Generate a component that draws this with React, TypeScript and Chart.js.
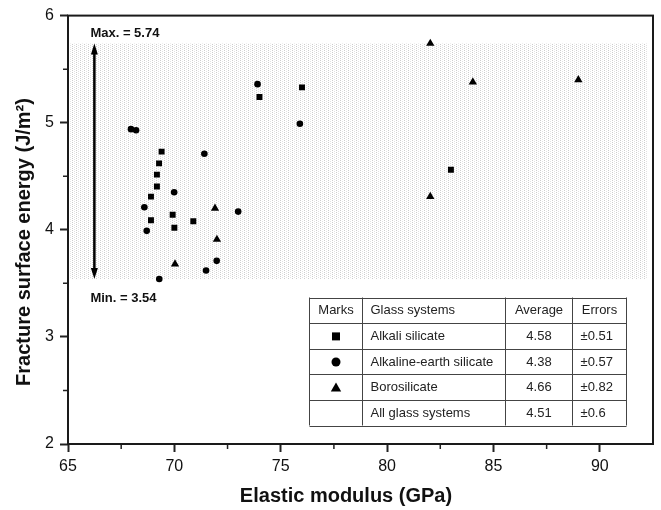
import React, { useEffect, useRef } from 'react';
import { Chart, registerables } from 'chart.js';

Chart.register(...registerables);

// ---- data ----
const xTicks = [65, 70, 75, 80, 85, 90];
const yTicks = [2, 3, 4, 5, 6];
const xMinorTicks = [67.5, 72.5, 77.5, 82.5, 87.5];
const yMinorTicks = [2.5, 3.5, 4.5, 5.5];

const alkaliX = [76.0, 74.0, 69.4, 69.28, 69.18, 69.18, 68.9, 69.92, 68.9, 70.0, 70.89, 83.0];
const alkaliY = [5.33, 5.24, 4.73, 4.62, 4.515, 4.405, 4.31, 4.14, 4.09, 4.02, 4.08, 4.56];

const earthX = [67.96, 68.2, 73.91, 75.9, 71.41, 69.99, 68.59, 73.0, 68.7, 71.99, 71.49, 69.29];
const earthY = [4.94, 4.93, 5.36, 4.99, 4.71, 4.35, 4.21, 4.17, 3.99, 3.71, 3.62, 3.54];

const boroX = [71.91, 72.0, 70.03, 82.03, 84.03, 88.99, 82.03];
const boroY = [4.2, 3.91, 3.68, 5.74, 5.38, 5.4, 4.31];

const rangeMax = 5.74;
const rangeMin = 3.54;

const tableHeaders = ['Marks', 'Glass systems', 'Average', 'Errors'];
const tableMarks = ['rect', 'circle', 'triangle', ''];
const tableSystems = ['Alkali silicate', 'Alkaline-earth silicate', 'Borosilicate', 'All glass systems'];
const tableAverages = ['4.58', '4.38', '4.66', '4.51'];
const tableErrors = ['\u00b10.51', '\u00b10.57', '\u00b10.82', '\u00b10.6'];

// ---- layout (data units) ----
const tableColEdges = [76.33, 78.82, 85.54, 88.68, 91.22];
const tableTop = 3.37;
const tableBottom = 2.18;
const shadeLeft = 65.1;
const shadeRight = 92.26;
const arrowX = 66.24;

const FONT = '"Liberation Sans", Arial, Helvetica, sans-serif';

const toPts = (xs: number[], ys: number[]) => xs.map((x, i) => ({ x, y: ys[i] }));

export default function App() {
  const ref = useRef<HTMLCanvasElement>(null);

  useEffect(() => {
    document.body.style.margin = '0';
    const canvas = ref.current!;

    const tile = document.createElement('canvas');
    tile.width = 4;
    tile.height = 4;
    const tctx = tile.getContext('2d')!;
    tctx.fillStyle = '#ffffff';
    tctx.fillRect(0, 0, 4, 4);
    tctx.fillStyle = '#cdcdcd';
    tctx.fillRect(0, 0, 1, 1);
    tctx.fillRect(0, 2, 1, 1);
    tctx.fillStyle = '#e2e2e2';
    tctx.fillRect(2, 1, 1, 1);
    tctx.fillRect(2, 3, 1, 1);

    const drawMark = (ctx: CanvasRenderingContext2D, kind: string, cx: number, cy: number, s: number) => {
      ctx.fillStyle = '#000';
      ctx.beginPath();
      if (kind === 'rect') {
        ctx.rect(cx - s / 2, cy - s / 2, s, s);
      } else if (kind === 'circle') {
        ctx.arc(cx, cy, s / 2 + 0.5, 0, Math.PI * 2);
      } else if (kind === 'triangle') {
        ctx.moveTo(cx, cy - s * 0.65);
        ctx.lineTo(cx + s * 0.65, cy + s * 0.5);
        ctx.lineTo(cx - s * 0.65, cy + s * 0.5);
        ctx.closePath();
      }
      ctx.fill();
    };

    const overlay = {
      id: 'overlay',
      beforeDatasetsDraw(chart: any) {
        const { ctx, scales } = chart;
        const xs = scales.x, ys = scales.y;
        ctx.save();
        const pat = ctx.createPattern(tile, 'repeat');
        ctx.fillStyle = pat;
        const l = xs.getPixelForValue(shadeLeft), r = xs.getPixelForValue(shadeRight);
        const t = ys.getPixelForValue(rangeMax), b = ys.getPixelForValue(rangeMin);
        ctx.fillRect(l, t, r - l, b - t);

        // double arrow
        const ax = xs.getPixelForValue(arrowX);
        const head = 11, hw = 3.5;
        ctx.strokeStyle = '#000';
        ctx.lineWidth = 2.5;
        ctx.beginPath();
        ctx.moveTo(ax, t + head - 1);
        ctx.lineTo(ax, b - head + 1);
        ctx.stroke();
        ctx.fillStyle = '#000';
        ctx.beginPath();
        ctx.moveTo(ax, t);
        ctx.lineTo(ax + hw, t + head);
        ctx.lineTo(ax - hw, t + head);
        ctx.closePath();
        ctx.fill();
        ctx.beginPath();
        ctx.moveTo(ax, b);
        ctx.lineTo(ax + hw, b - head);
        ctx.lineTo(ax - hw, b - head);
        ctx.closePath();
        ctx.fill();

        ctx.font = `bold 13px ${FONT}`;
        ctx.textAlign = 'left';
        ctx.textBaseline = 'middle';
        ctx.fillStyle = '#111';
        ctx.fillText(`Max. = ${rangeMax}`, ax - 4, t - 10);
        ctx.fillText(`Min. = ${rangeMin}`, ax - 4, b + 19);
        ctx.restore();
      },
      afterDatasetsDraw(chart: any) {
        const { ctx, scales } = chart;
        const xs = scales.x, ys = scales.y;
        ctx.save();
        const cols = tableColEdges.map((v) => Math.round(xs.getPixelForValue(v)) + 0.5);
        const top = Math.round(ys.getPixelForValue(tableTop)) + 0.5;
        const bot = Math.round(ys.getPixelForValue(tableBottom)) + 0.5;
        const nRows = 5;
        const rh = (bot - top) / nRows;
        ctx.fillStyle = '#fff';
        ctx.fillRect(cols[0], top, cols[4] - cols[0], bot - top);
        ctx.strokeStyle = '#444';
        ctx.lineWidth = 1;
        ctx.beginPath();
        for (let i = 0; i <= nRows; i++) {
          const y = Math.round(top + i * rh) + 0.5;
          ctx.moveTo(cols[0], y);
          ctx.lineTo(cols[4], y);
        }
        cols.forEach((c) => {
          ctx.moveTo(c, top);
          ctx.lineTo(c, bot);
        });
        ctx.stroke();

        ctx.font = `13px ${FONT}`;
        ctx.fillStyle = '#222';
        ctx.textBaseline = 'middle';
        const rowC = (i: number) => top + rh * (i + 0.5) + 0.5;
        const center = (i: number) => (cols[i] + cols[i + 1]) / 2;
        // header
        ctx.textAlign = 'center';
        ctx.fillText(tableHeaders[0], center(0), rowC(0));
        ctx.textAlign = 'left';
        ctx.fillText(tableHeaders[1], cols[1] + 8, rowC(0));
        ctx.textAlign = 'center';
        ctx.fillText(tableHeaders[2], center(2), rowC(0));
        ctx.fillText(tableHeaders[3], center(3), rowC(0));
        for (let r = 0; r < tableSystems.length; r++) {
          const cy = rowC(r + 1);
          if (tableMarks[r]) drawMark(ctx, tableMarks[r], center(0), cy, 8);
          ctx.fillStyle = '#222';
          ctx.textAlign = 'left';
          ctx.fillText(tableSystems[r], cols[1] + 8, cy);
          ctx.textAlign = 'center';
          ctx.fillText(tableAverages[r], center(2), cy);
          ctx.textAlign = 'left';
          ctx.fillText(tableErrors[r], cols[3] + 8, cy);
        }
        ctx.restore();
      },
      afterDraw(chart: any) {
        const { ctx, chartArea: ca, scales } = chart;
        ctx.save();
        // minor ticks
        ctx.strokeStyle = '#222';
        ctx.lineWidth = 1.5;
        ctx.beginPath();
        xMinorTicks.forEach((v) => {
          const px = scales.x.getPixelForValue(v);
          ctx.moveTo(px, ca.bottom);
          ctx.lineTo(px, ca.bottom + 5);
        });
        yMinorTicks.forEach((v) => {
          const py = scales.y.getPixelForValue(v);
          ctx.moveTo(ca.left, py);
          ctx.lineTo(ca.left - 5, py);
        });
        ctx.stroke();
        // frame
        ctx.strokeStyle = '#1a1a1a';
        ctx.lineWidth = 2;
        ctx.strokeRect(ca.left, ca.top, ca.right - ca.left, ca.bottom - ca.top);
        // axis titles
        ctx.fillStyle = '#111';
        ctx.font = `bold 20px ${FONT}`;
        ctx.textAlign = 'center';
        ctx.textBaseline = 'middle';
        ctx.fillText('Elastic modulus (GPa)', ca.left + 278, 496);
        ctx.translate(24, 242);
        ctx.rotate(-Math.PI / 2);
        ctx.fillText('Fracture surface energy (J/m\u00b2)', 0, 0);
        ctx.restore();
      },
    };

    const tickFont = { family: FONT, size: 16 };

    const chart = new Chart(canvas, {
      type: 'scatter',
      data: {
        datasets: [
          {
            label: 'Alkali silicate',
            data: toPts(alkaliX, alkaliY),
            pointStyle: 'rect',
            pointRadius: 4.2,
            backgroundColor: '#000',
            borderColor: '#000',
            borderWidth: 0,
          },
          {
            label: 'Alkaline-earth silicate',
            data: toPts(earthX, earthY),
            pointStyle: 'circle',
            pointRadius: 3.3,
            backgroundColor: '#000',
            borderColor: '#000',
            borderWidth: 0,
          },
          {
            label: 'Borosilicate',
            data: toPts(boroX, boroY),
            pointStyle: 'triangle',
            pointRadius: 4.8,
            backgroundColor: '#000',
            borderColor: '#000',
            borderWidth: 0,
          },
        ],
      },
      options: {
        responsive: false,
        animation: false,
        events: [],
        layout: { padding: { left: 0, right: 8, top: 15, bottom: 0 } },
        plugins: {
          legend: { display: false },
          tooltip: { enabled: false },
        },
        scales: {
          x: {
            type: 'linear',
            min: 65,
            max: 92.5,
            afterBuildTicks: (s: any) => {
              s.ticks = xTicks.map((v) => ({ value: v }));
            },
            afterFit: (s: any) => {
              s.height = 66;
            },
            ticks: {
              font: tickFont,
              color: '#111',
              padding: 5,
              maxRotation: 0,
              callback: (v: any) => String(v),
            },
            grid: {
              display: true,
              drawOnChartArea: false,
              tickLength: 8,
              tickWidth: 2,
              tickColor: '#222',
            },
            border: { display: false },
          },
          y: {
            type: 'linear',
            min: 2,
            max: 6,
            afterBuildTicks: (s: any) => {
              s.ticks = yTicks.map((v) => ({ value: v }));
            },
            afterFit: (s: any) => {
              s.width = 68;
            },
            ticks: {
              font: tickFont,
              color: '#111',
              padding: 6,
              callback: (v: any) => String(v),
            },
            grid: {
              display: true,
              drawOnChartArea: false,
              tickLength: 8,
              tickWidth: 2,
              tickColor: '#222',
            },
            border: { display: false },
          },
        },
      },
      plugins: [overlay],
    } as any);

    return () => chart.destroy();
  }, []);

  return (
    <div style={{ width: 661, height: 510 }}>
      <canvas ref={ref} width={661} height={510} style={{ display: 'block' }} />
    </div>
  );
}
